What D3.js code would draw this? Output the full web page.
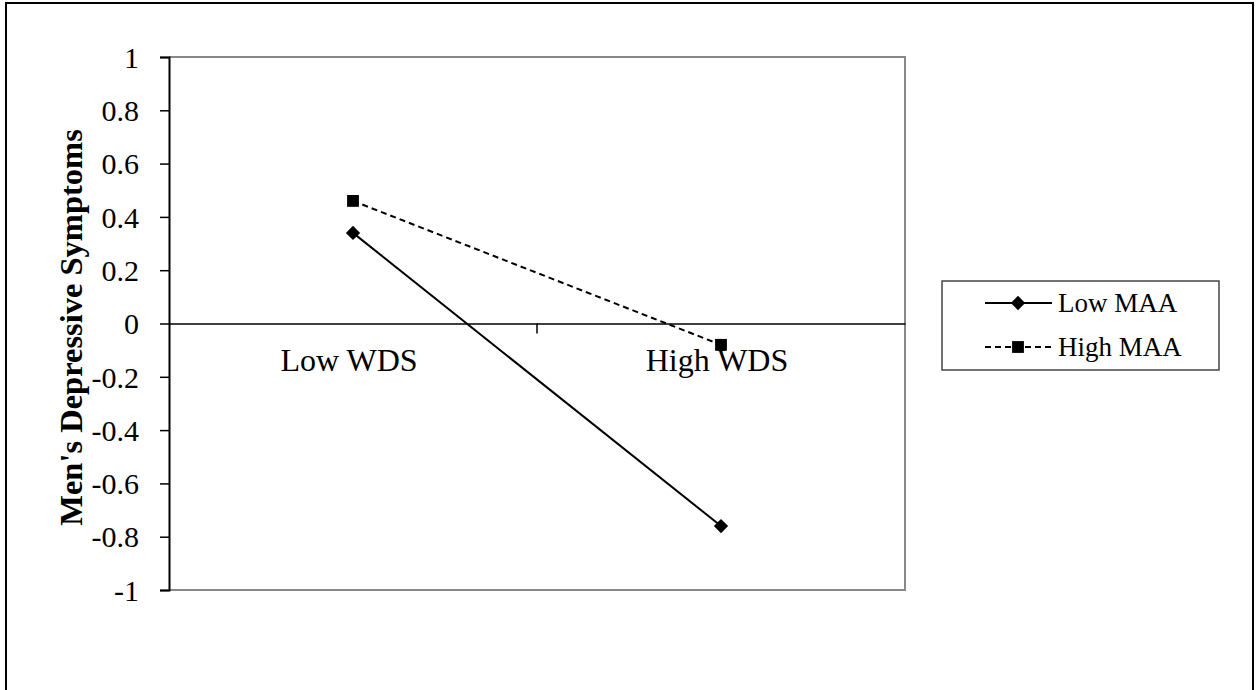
<!DOCTYPE html>
<html>
<head>
<meta charset="utf-8">
<script src="https://cdn.jsdelivr.net/npm/d3@7"></script>
<style>
  html, body { margin: 0; padding: 0; background: #fff; }
  svg { display: block; }
  text { font-family: "Liberation Serif", "Times New Roman", serif; fill: #000; }
</style>
</head>
<body>
<svg id="chart" width="1259" height="690"></svg>
<script>
const categories = ["Low WDS", "High WDS"];
const seriesNames = ["Low MAA", "High MAA"];
const lowMAA = [0.34, -0.76];
const highMAA = [0.46, -0.08];
const yTicks = [1, 0.8, 0.6, 0.4, 0.2, 0, -0.2, -0.4, -0.6, -0.8, -1];

const svg = d3.select("#chart");
const plot = { left: 169, right: 905, top: 57, bottom: 590 };

// outer border
svg.append("rect").attr("x", 6).attr("y", 3).attr("width", 1247).attr("height", 720)
  .attr("fill", "none").attr("stroke", "#000").attr("stroke-width", 2);

const x = d3.scaleBand().domain(categories).range([plot.left, plot.right]);
const y = d3.scaleLinear().domain([-1, 1]).range([plot.bottom, plot.top]);

// plot frame (gray top/right/bottom)
svg.append("path")
  .attr("d", `M${plot.left},${plot.top}H${plot.right}V${plot.bottom}H${plot.left}`)
  .attr("fill", "none").attr("stroke", "#888").attr("stroke-width", 2);

// y axis
const yAxis = d3.axisLeft(y).tickValues(yTicks).tickSize(9).tickPadding(21)
  .tickFormat(d => String(d));
const gy = svg.append("g").attr("transform", `translate(${plot.left},0)`).call(yAxis);
gy.attr("font-family", null).attr("font-size", null);
gy.select(".domain").attr("stroke", "#000").attr("stroke-width", 2);
gy.selectAll(".tick line").attr("stroke", "#000").attr("stroke-width", 1.5);
gy.selectAll(".tick text")
  .style("font-family", "'Liberation Serif', 'Times New Roman', serif")
  .style("font-size", "30px").attr("dy", "0.34em");

// category axis at zero
const xAxis = d3.axisBottom(x).tickSize(0).tickPadding(0).tickFormat("");
const gx = svg.append("g").attr("transform", `translate(0,${y(0)})`).call(xAxis);
gx.select(".domain").attr("stroke", "#000").attr("stroke-width", 1.5);
gx.selectAll(".tick").remove();
// tick between categories
svg.append("line")
  .attr("x1", x(categories[1])).attr("x2", x(categories[1]))
  .attr("y1", y(0)).attr("y2", y(0) + 10)
  .attr("stroke", "#000").attr("stroke-width", 1.5);

// category labels
svg.selectAll(".cat").data(categories).enter().append("text")
  .attr("class", "cat")
  .attr("x", d => x(d) + x.bandwidth() / 2 - 4)
  .attr("y", y(0) + 47)
  .attr("text-anchor", "middle")
  .style("font-size", "32px")
  .text(d => d);

// y label
svg.append("text")
  .attr("transform", `translate(82,${(plot.top + plot.bottom) / 2 + 4}) rotate(-90)`)
  .attr("text-anchor", "middle")
  .style("font-size", "32.5px").style("font-weight", "bold")
  .text("Men's Depressive Symptoms");

const line = d3.line().x((d, i) => x(categories[i]) + x.bandwidth() / 2).y(d => y(d));

// lines
svg.append("path").datum(lowMAA).attr("d", line)
  .attr("fill", "none").attr("stroke", "#000").attr("stroke-width", 2);
svg.append("path").datum(highMAA).attr("d", line)
  .attr("fill", "none").attr("stroke", "#000").attr("stroke-width", 2)
  .attr("stroke-dasharray", "6,4");

const diamond = d3.symbol().type(d3.symbolDiamond2).size(130);
const square = d3.symbol().type(d3.symbolSquare).size(140);

svg.selectAll(".pLow").data(lowMAA).enter().append("path")
  .attr("d", diamond)
  .attr("transform", (d, i) => `translate(${x(categories[i]) + x.bandwidth() / 2},${y(d)})`)
  .attr("fill", "#000");
svg.selectAll(".pHigh").data(highMAA).enter().append("path")
  .attr("d", square)
  .attr("transform", (d, i) => `translate(${x(categories[i]) + x.bandwidth() / 2},${y(d)})`)
  .attr("fill", "#000");

// legend
const lg = svg.append("g");
lg.append("rect").attr("x", 942).attr("y", 281).attr("width", 277).attr("height", 89)
  .attr("fill", "#fff").attr("stroke", "#444").attr("stroke-width", 1.5);
const legendRows = [
  { name: seriesNames[0], dash: null, sym: diamond, y: 303 },
  { name: seriesNames[1], dash: "6,4", sym: square, y: 347 }
];
legendRows.forEach(r => {
  lg.append("line").attr("x1", 985).attr("x2", 1052).attr("y1", r.y).attr("y2", r.y)
    .attr("stroke", "#000").attr("stroke-width", 2)
    .attr("stroke-dasharray", r.dash);
  lg.append("path").attr("d", r.sym).attr("transform", `translate(1018,${r.y})`).attr("fill", "#000");
  lg.append("text").attr("x", 1058).attr("y", r.y + 9).style("font-size", "27px").text(r.name);
});
</script>
</body>
</html>
